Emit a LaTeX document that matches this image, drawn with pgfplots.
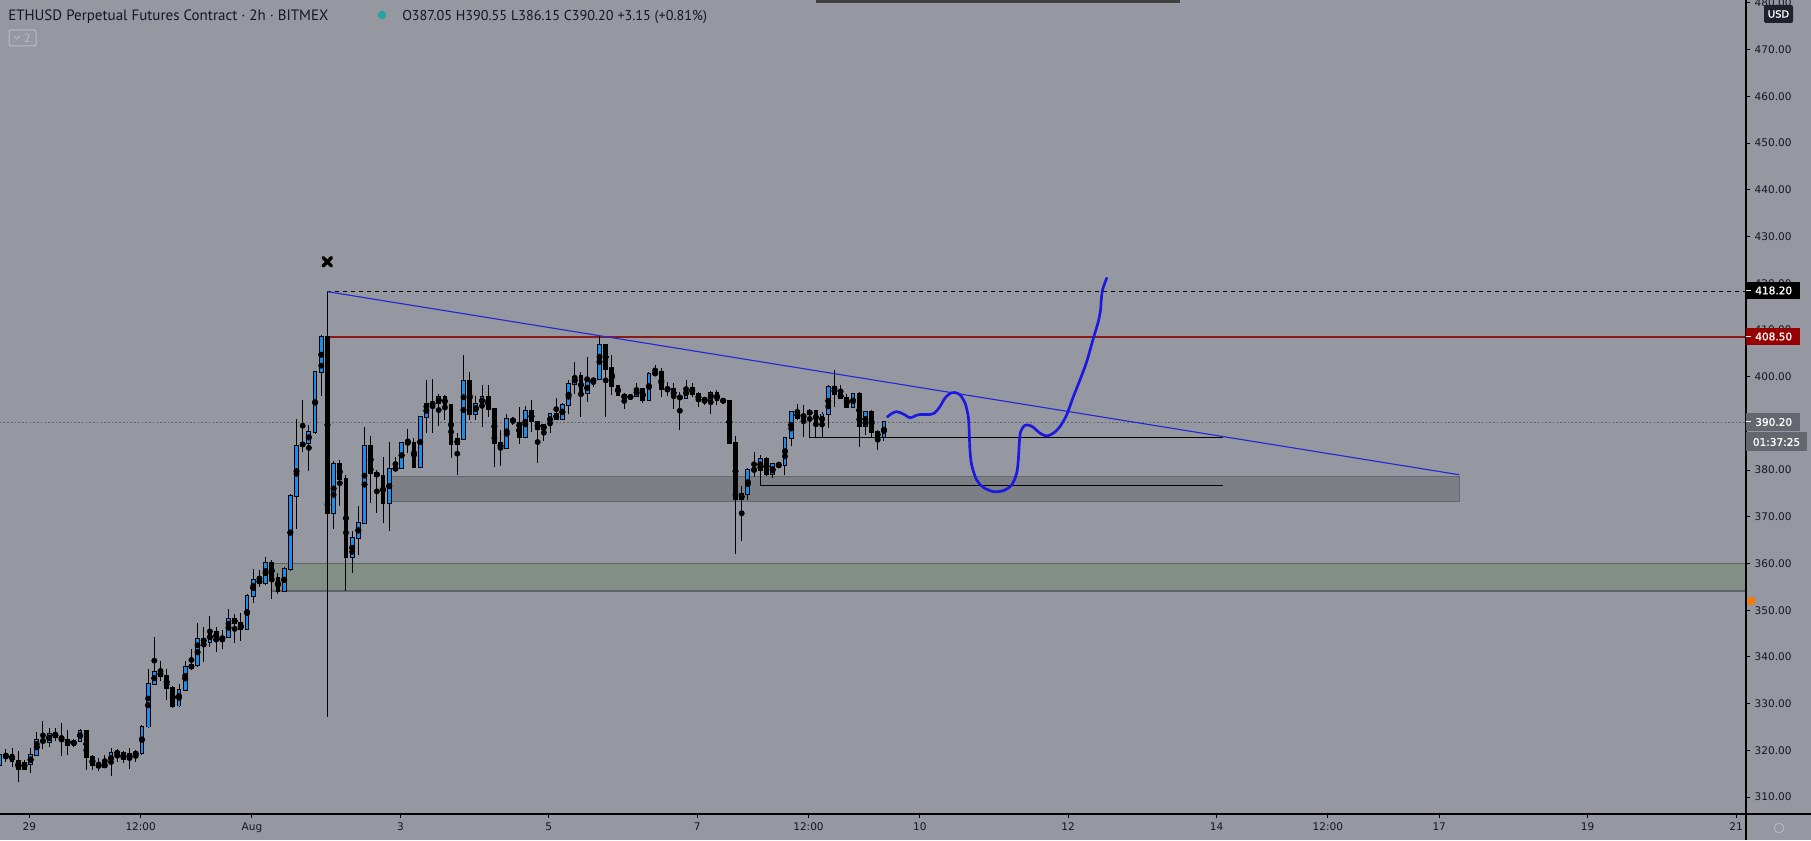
\documentclass[border=0pt]{standalone}
\usepackage{fontspec}
\setmainfont{DejaVu Sans}
\newfontfamily\hdr{PT Sans}
\newfontfamily\lblfont[FakeBold=1.2]{DejaVu Sans}
\usepackage{pgfplots}
\pgfplotsset{compat=1.18}
\usepackage{pgfplotstable}

\definecolor{bg}{RGB}{149,152,161}
\definecolor{tcol}{RGB}{19,23,34}
\definecolor{cblue}{RGB}{30,140,235}
\definecolor{zgray}{RGB}{125,127,135}
\definecolor{zgrayb}{RGB}{100,103,110}
\definecolor{zgreen}{RGB}{131,143,134}
\definecolor{zgreenb}{RGB}{95,100,104}
\definecolor{redl}{RGB}{140,25,25}
\definecolor{trendb}{RGB}{40,40,210}
\definecolor{fhblue}{RGB}{25,25,225}
\definecolor{dotcol}{RGB}{95,98,108}
\definecolor{lblred}{RGB}{150,0,0}
\definecolor{lblgray}{RGB}{100,103,112}
\definecolor{usdbg}{RGB}{30,34,45}
\definecolor{tealdot}{RGB}{38,166,154}
\definecolor{orgdot}{RGB}{245,124,0}
\definecolor{lightb}{RGB}{185,188,195}

% 2h candles, i = index (x = i/12 - 3.40 days from Aug 1)
\pgfplotstableread{
i O H L C
0 316.9 319.9 316.1 319.1
1 318.6 320.2 317.6 318.8
2 318.9 320.6 316.5 317.8
3 317.8 319.9 313.3 316.1
4 316.1 317.9 315.8 317.2
5 317.1 320.6 315.2 319.0
6 319.1 324.0 318.7 322.3
7 322.3 326.2 320.2 321.7
8 321.7 324.7 320.8 323.5
9 323.5 324.7 322.1 322.9
10 322.9 325.9 318.7 322.3
11 322.3 324.4 319.1 321.2
12 321.2 322.5 320.8 322.0
13 322.1 324.5 321.9 324.2
14 324.2 324.3 315.8 318.5
15 318.5 319.1 315.8 316.9
16 317.0 318.4 315.5 316.4
17 316.4 319.1 316.3 317.2
18 317.2 320.6 314.4 319.4
19 319.4 320.2 317.5 319.5
20 319.5 319.9 317.2 318.2
21 318.2 320.6 316.1 319.3
22 319.1 320.0 317.6 319.5
23 319.5 325.5 319.1 325.1
24 325.1 337.5 324.7 334.2
25 334.2 344.3 334.1 336.7
26 336.7 339.2 334.8 336.0
27 336.0 337.5 330.7 333.3
28 333.3 333.7 329.0 329.4
29 329.6 334.1 329.2 333.0
30 333.0 339.2 332.7 337.8
31 337.7 341.6 337.1 338.2
32 338.2 347.2 337.8 343.8
33 343.8 346.4 338.9 343.2
34 343.2 348.7 342.2 345.3
35 345.3 346.4 341.0 343.7
36 343.7 345.7 341.7 344.3
37 344.3 350.2 344.0 348.2
38 348.2 349.1 342.9 347.2
39 347.2 349.4 343.4 345.9
40 345.9 353.5 345.7 353.0
41 353.0 358.9 351.5 356.5
42 356.5 358.6 355.0 355.8
43 355.8 361.4 355.4 360.1
44 360.1 360.7 352.4 356.8
45 356.8 358.0 353.5 354.2
46 354.2 359.2 353.9 358.8
47 358.8 374.9 358.4 374.4
48 374.4 391.0 367.4 385.1
49 385.1 395.1 383.9 385.9
50 385.9 389.6 379.9 388.1
51 388.1 401.1 387.8 400.9
52 400.9 408.9 395.8 408.5
53 408.5 418.2 327.1 370.9
54 370.9 382.0 367.4 381.2
55 381.2 382.1 372.3 378.1
56 378.1 379.0 354.2 361.3
57 361.3 367.0 358.0 365.4
58 365.4 372.4 361.9 368.7
59 368.7 389.2 368.4 385.1
60 385.1 387.3 373.0 379.4
61 379.4 380.0 370.9 378.7
62 378.7 382.9 368.7 373.0
63 373.0 386.1 367.0 380.2
64 380.2 382.7 379.9 380.4
65 380.4 386.1 380.2 385.9
66 385.9 388.7 383.6 385.8
67 385.9 386.8 380.6 380.7
68 380.7 391.4 380.6 391.3
69 391.3 399.3 387.9 394.1
70 394.1 399.4 387.9 394.3
71 394.3 396.3 389.4 395.6
72 395.6 396.1 390.7 393.9
73 393.9 393.9 382.5 385.5
74 385.5 388.0 379.0 386.6
75 386.6 404.6 386.6 399.1
76 399.1 401.1 390.7 392.0
77 392.1 395.9 390.7 394.1
78 394.1 398.2 389.3 395.6
79 395.6 398.2 391.4 393.0
80 393.0 393.0 380.7 385.7
81 385.7 388.6 380.9 384.7
82 384.7 392.0 384.6 390.9
83 390.9 391.4 389.6 390.4
84 390.0 393.6 385.6 387.0
85 387.0 393.7 387.0 392.6
86 392.6 394.9 388.2 390.4
87 390.2 390.4 381.6 388.7
88 388.7 389.7 386.3 389.6
89 389.6 392.1 387.9 392.1
90 392.1 395.4 390.7 390.9
91 390.9 394.4 390.7 393.9
92 393.9 399.3 392.1 398.4
93 398.4 403.2 396.3 400.0
94 400.1 401.1 391.4 396.4
95 396.4 404.3 394.6 398.8
96 398.8 400.0 397.7 399.6
97 399.6 408.9 399.6 406.8
98 406.8 407.1 391.3 401.6
99 401.8 404.6 396.1 398.1
100 398.1 398.2 395.9 396.1
101 396.1 396.6 393.0 395.4
102 395.4 396.3 395.0 395.9
103 395.9 398.7 395.6 397.3
104 397.3 397.5 394.3 395.1
105 395.1 400.9 395.1 400.6
106 400.5 402.6 400.1 400.9
107 400.9 401.8 395.6 397.3
108 397.3 398.9 395.9 397.2
109 397.3 398.6 393.0 395.7
110 395.6 396.8 388.6 395.5
111 395.4 399.3 395.4 397.6
112 397.6 398.6 395.6 396.3
113 396.3 396.8 393.4 395.0
114 395.0 395.7 393.9 395.1
115 395.0 397.0 392.1 396.6
116 396.6 397.1 393.9 394.9
117 394.9 395.1 394.6 394.8
118 394.9 394.9 385.6 385.7
119 385.7 387.3 362.0 373.8
120 373.8 376.6 364.9 374.8
121 374.8 380.4 373.6 380.0
122 380.0 383.9 378.6 380.1
123 380.0 383.2 377.9 382.4
124 382.4 382.9 378.7 379.1
125 379.1 381.6 378.2 381.2
126 381.1 381.4 380.6 381.2
127 381.1 387.0 378.9 386.9
128 386.9 392.6 385.2 392.4
129 392.4 394.2 390.7 391.2
130 391.2 393.9 387.0 391.9
131 392.0 393.0 388.9 392.6
132 392.6 392.6 387.0 390.0
133 390.0 392.5 387.0 391.9
134 391.9 398.2 389.1 397.7
135 397.7 401.4 393.6 396.2
136 396.2 398.2 395.5 395.5
137 395.5 396.2 393.4 393.4
138 393.4 396.4 393.4 396.2
139 396.2 396.8 384.9 389.4
140 389.4 392.7 387.5 392.4
141 392.4 392.9 387.0 388.2
142 388.2 388.6 384.4 387.0
143 387.05 390.55 386.15 390.20
}\candles

\begin{document}
\begin{tikzpicture}[x=0.75pt,y=0.75pt]
\useasboundingbox (0,0) rectangle (1811,840);
\fill[bg] (0,0) rectangle (1811,840);
% toolbar edge at the top
\fill[black!75] (816,840) rectangle (1180,837);
\fill[black!35,opacity=0.5] (814,837) rectangle (1182,835.5);

\begin{axis}[
  at={(0pt,19.5pt)}, anchor=south west,
  width=1309.5pt, height=610.5pt, scale only axis,
  xmin=-3.396, xmax=20.135, ymin=306.37, ymax=480.64,
  axis x line*=bottom, axis y line*=right,
  axis line style={draw=none},
  tick align=outside, major tick length=3pt,
  tick style={black, line width=0.75pt},
  minor tick num=0,
  xtick={-3,-1.5,0,2,4,6,7.5,9,11,13,14.5,16,18,20},
  xticklabels={29,12:00,Aug,3,5,7,12:00,10,12,14,12:00,17,19,21},
  ytick={310,320,...,480},
  ticklabel style={font=\fontsize{7.9pt}{9pt}\selectfont, text=tcol},
  yticklabel style={/pgf/number format/fixed, /pgf/number format/fixed zerofill,
    /pgf/number format/precision=2, /pgf/number format/assume math mode=true,
    /pgf/number format/1000 sep={}},
  error bars/error mark=none,
]
% zones
\addplot[fill=zgreen, draw=zgreenb, line width=0.9pt]
  coordinates {(0.267,354.1) (20.5,354.1) (20.5,360.0) (0.267,360.0)} -- cycle;
\addplot[fill=zgray, draw=zgrayb, line width=0.9pt]
  coordinates {(1.85,373.2) (16.27,373.2) (16.27,378.7) (1.85,378.7)} -- cycle;
% last price line
\addplot[dotcol, line width=0.6pt, dash pattern=on 1.2pt off 1.6pt]
  coordinates {(-3.5,390.2) (20.5,390.2)};
% high and resistance levels
\addplot[black, line width=0.75pt, dash pattern=on 3pt off 3pt]
  coordinates {(1.015,418.2) (20.5,418.2)};
\addplot[redl, line width=0.85pt] coordinates {(1.015,408.5) (20.5,408.5)};
% wicks
\addplot[only marks, mark=none, error bars/.cd, y dir=both, y explicit,
    error bar style={black, line width=0.75pt}]
  table[x expr=\thisrow{i}/12-3.40, y expr=(\thisrow{H}+\thisrow{L})/2,
        y error expr=(\thisrow{H}-\thisrow{L})/2] {\candles};
% bodies: black outline, then blue fill for up candles
\addplot[only marks, mark=none, error bars/.cd, y dir=both, y explicit,
    error bar style={black, line width=3.6pt}]
  table[x expr=\thisrow{i}/12-3.40, y expr=(\thisrow{O}+\thisrow{C})/2,
        y error expr=abs(\thisrow{C}-\thisrow{O})/2+0.21] {\candles};
\addplot[only marks, mark=none, error bars/.cd, y dir=both, y explicit,
    error bar style={cblue, line width=2.1pt}]
  table[x expr=\thisrow{i}/12-3.40, y expr=(\thisrow{O}+\thisrow{C})/2,
        y error expr={\thisrow{C}>=\thisrow{O} ? abs(\thisrow{C}-\thisrow{O})/2 : 0}] {\candles};
% horizontal support lines
\addplot[black, line width=0.8pt] coordinates {(7.517,388.9) (7.517,387.0) (13.09,387.0)};
\addplot[black, line width=0.8pt] coordinates {(6.850,377.9) (6.850,376.6) (13.09,376.6)};
% descending trendline
\addplot[trendb, line width=0.85pt] coordinates {(1.015,418.2) (16.27,379.0)};
% projected path
\addplot[fhblue, line width=2pt, smooth, tension=0.5, line cap=round, line join=round]
  coordinates {
  (8.562,391.4) (8.621,392.1) (8.688,392.5) (8.778,392.0) (8.868,391.2)
  (8.935,391.6) (9.003,391.9) (9.137,391.9) (9.205,392.3) (9.272,393.6)
  (9.339,395.4) (9.407,396.4) (9.474,396.6) (9.542,396.1) (9.609,394.4)
  (9.654,391.4) (9.667,387.9) (9.676,384.3) (9.699,381.1) (9.766,377.9)
  (9.856,376.3) (9.991,375.4) (10.126,375.6) (10.238,376.8) (10.305,379.3)
  (10.328,382.2) (10.341,385.7) (10.359,388.2) (10.418,389.6) (10.508,389.4)
  (10.620,387.9) (10.710,387.3) (10.800,387.9) (10.889,389.3) (10.979,391.8)
  (11.069,395.7) (11.159,399.3) (11.249,403.2) (11.339,408.2) (11.406,411.8)
  (11.438,414.5) (11.445,416.4) (11.465,418.7) (11.519,421.1)};
% cross at the top
\addplot[only marks, mark=x, mark size=4.4pt, line width=2.6pt, black,
    mark options={line cap=round}] coordinates {(1.015,424.6)};
\end{axis}

% axis lines
\draw[black, line width=1.5pt] (0,26) -- (1811,26);
\draw[black, line width=1.1pt] (1746,0) -- (1746,840);

% price labels on the scale
\fill[black] (1746,558) rectangle (1800,541);
\draw[white, line width=0.75pt] (1746,549.5) -- (1751,549.5);
\node[anchor=west, inner sep=0, text=white, font=\lblfont\fontsize{7.9pt}{9pt}\selectfont] at (1755,549.5) {418.20};
\fill[lblred] (1746,512) rectangle (1800,495);
\draw[white, line width=0.75pt] (1746,503.5) -- (1751,503.5);
\node[anchor=west, inner sep=0, text=white, font=\lblfont\fontsize{7.9pt}{9pt}\selectfont] at (1755,503.5) {408.50};
\fill[lblgray] (1746,426.5) rectangle (1800,408.5);
\draw[white, line width=0.75pt] (1746,418) -- (1751,418);
\node[anchor=west, inner sep=0, text=white, font=\lblfont\fontsize{7.9pt}{9pt}\selectfont] at (1755,418) {390.20};
\fill[lblgray] (1746,407.5) rectangle (1807,388.5);
\node[anchor=center, inner sep=0, text=white, font=\lblfont\fontsize{7.9pt}{9pt}\selectfont] at (1776.5,398) {01:37:25};
\fill[usdbg, rounded corners=1.5pt] (1764,835) rectangle (1793,817);
\node[inner sep=0, text=white, font=\lblfont\fontsize{7.5pt}{8pt}\selectfont] at (1778.5,826) {USD};
\fill[orgdot] (1751,239) circle (3.2pt);
\draw[lightb, line width=0.6pt] (1779,12) circle (3.6pt);

% header
\node[anchor=base west, inner sep=0, text=tcol, font=\hdr\fontsize{11.25pt}{13pt}\selectfont]
  at (8,819) {ETHUSD Perpetual Futures Contract · 2h · BITMEX};
\fill[tealdot] (382,825) circle (3.2pt);
\node[anchor=base west, inner sep=0, text=tcol, font=\hdr\fontsize{10.65pt}{12pt}\selectfont]
  at (402,819) {O387.05 H390.55 L386.15 C390.20 +3.15 (+0.81\%)};
\draw[lightb, line width=0.75pt, rounded corners=1.5pt] (9,810) rectangle (36,794);
\draw[lightb, line width=0.75pt] (14,804) -- (17,801) -- (20,804);
\node[inner sep=0, text=lightb, font=\hdr\fontsize{9pt}{10pt}\selectfont] at (27.5,802) {2};
\end{tikzpicture}
\end{document}
